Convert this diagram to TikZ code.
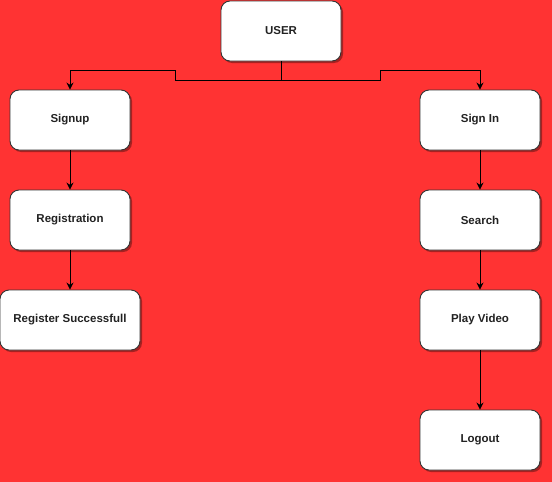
\documentclass[tikz,border=0pt]{standalone}
\usepackage{fontspec}
\setmainfont{Liberation Sans}
\usetikzlibrary{arrows.meta,shadows}
\definecolor{bg}{HTML}{FF3333}
\definecolor{edge}{HTML}{333333}
\definecolor{txt}{HTML}{222222}
\begin{document}
\begin{tikzpicture}[x=1pt,y=-1pt,
  box/.style={draw=edge, line width=0.9pt, fill=white, rounded corners=9pt,
    minimum width=120pt, minimum height=60pt, inner sep=0pt, text=txt,
    font=\bfseries\fontsize{11.5}{13}\selectfont,
    drop shadow={shadow xshift=2pt, shadow yshift=-2pt, opacity=0.35, fill=black}},
  conn/.style={draw=black, line width=0.9pt, -{Stealth[length=7pt,width=7pt]}}]
\fill[bg] (0,0) rectangle (552,482);
\useasboundingbox (0,0) rectangle (552,482);
\node[box] (user) at (281,31) {USER};
\node[box] (signup) at (70,120) {Signup};
\node[box] (reg) at (70,220) {Registration};
\node[box, minimum width=140pt] (regs) at (70,320) {Register Successfull};
\node[box] (signin) at (480,120) {Sign In};
\node[box] (search) at (480,220) {Search};
\node[box] (play) at (480,320) {Play Video};
\node[box] (logout) at (480,440) {Logout};
\draw[conn] (user.south) -- (281,80) -- (175,80) -- (175,70) -| (signup.north);
\draw[conn] (user.south) -- (281,80) -- (380,80) -- (380,70) -| (signin.north);
\draw[conn] (signup) -- (reg);
\draw[conn] (reg) -- (regs);
\draw[conn] (signin) -- (search);
\draw[conn] (search) -- (play);
\draw[conn] (play) -- (logout);
\end{tikzpicture}
\end{document}
